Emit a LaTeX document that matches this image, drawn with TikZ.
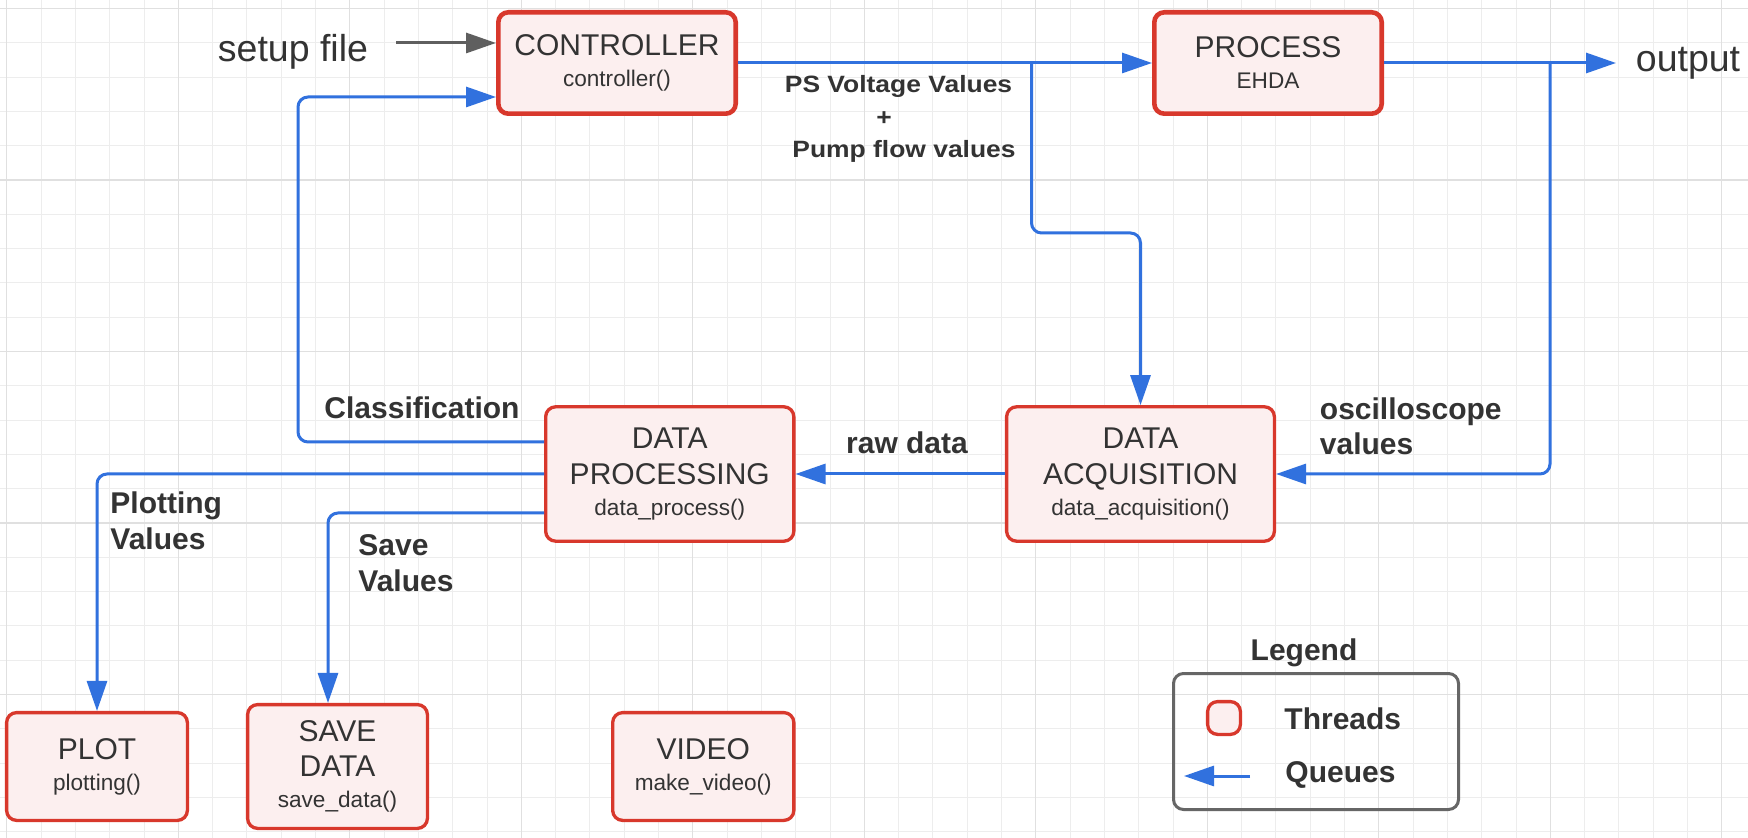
\documentclass[tikz,border=0pt]{standalone}
\usepackage{fontspec}
\setmainfont{Liberation Sans}
\newfontfamily\psfamily[FakeStretch=1.12]{Liberation Sans}
\usetikzlibrary{arrows.meta}
\definecolor{tred}{HTML}{D8382C}
\definecolor{tfill}{HTML}{FCEFEF}
\definecolor{qblue}{HTML}{3171DE}
\definecolor{txt}{HTML}{333333}
\definecolor{garrow}{HTML}{5F5F5F}
\definecolor{lgray}{HTML}{666666}
\definecolor{gminor}{HTML}{EDEDED}
\definecolor{gmajor}{HTML}{E0E0E0}
\newcommand{\mainf}{\fontsize{15}{17.8}\selectfont}
\newcommand{\subf}{\fontsize{11.3}{17.8}\selectfont}
\newcommand{\bigf}{\fontsize{18.75}{22}\selectfont}
\newcommand{\psf}{\psfamily\bfseries\fontsize{11.8}{16.25}\selectfont}
\begin{document}
\begin{tikzpicture}[x=0.5pt,y=-0.5pt,
  thread/.style={draw=tred, fill=tfill, line width=1.65pt, rounded corners=5pt, align=center, text=txt, font=\mainf, inner sep=0pt},
  topthread/.style={thread, line width=2.3pt},
  tip/.style={-{Triangle[length=15pt,width=10pt]}},
  queue/.style={draw=qblue, line width=1.5pt, rounded corners=5pt, tip},
  lbl/.style={text=txt, font=\bfseries\mainf, inner sep=0pt},
  plain/.style={text=txt, font=\bigf, inner sep=0pt},
]
\useasboundingbox (0,0) rectangle (1748,838);
\fill[white] (0,0) rectangle (1748,838);
% grid
\foreach \i in {0,...,50}{\draw[gminor, line width=0.5pt] ({6.8+34.3*\i},0) -- ({6.8+34.3*\i},838);}
\foreach \j in {0,...,24}{\draw[gminor, line width=0.5pt] (0,{8.5+34.3*\j}) -- (1748,{8.5+34.3*\j});}
\foreach \i in {0,...,10}{\draw[gmajor, line width=0.6pt] ({6.8+171.5*\i},0) -- ({6.8+171.5*\i},838);}
\foreach \j in {0,...,4}{\draw[gmajor, line width=0.6pt] (0,{8.5+171.5*\j}) -- (1748,{8.5+171.5*\j});}

% threads
\node[topthread, minimum width=118.7pt, minimum height=50.7pt] (ctrl) at (617,63) {CONTROLLER\\[-2.3pt]{\subf controller()}};
\node[topthread, minimum width=113.7pt, minimum height=50.7pt] (proc) at (1268,63) {PROCESS\\[-2.3pt]{\subf EHDA}};
\node[thread, minimum width=133.9pt, minimum height=67.2pt] (dacq) at (1140.5,474) {DATA\\ACQUISITION\\[-2.3pt]{\subf data\_acquisition()}};
\node[thread, minimum width=124.1pt, minimum height=67.2pt] (dp) at (669.75,474) {DATA\\PROCESSING\\[-2.3pt]{\subf data\_process()}};
\node[thread, minimum width=90.4pt, minimum height=53.9pt] (plot) at (97,766.5) {PLOT\\[-2.3pt]{\subf plotting()}};
\node[thread, minimum width=89.9pt, minimum height=61.9pt] (save) at (337.5,766.5) {SAVE\\DATA\\[-2.3pt]{\subf save\_data()}};
\node[thread, minimum width=90.6pt, minimum height=53.9pt] (video) at (703.25,766.5) {VIDEO\\[-2.3pt]{\subf make\_video()}};

% free texts
\node[plain, anchor=base] (setup) at (293,62) {setup file};
\node[plain, anchor=base] (out) at (1688,72) {output};

% connectors
\coordinate (sf) at (396,43);
\draw[garrow, line width=1.5pt, tip] (sf) -- (ctrl.west |- sf);
\draw[queue] (ctrl.east) -- (proc.west);
\coordinate (brA) at (1031.5,63);
\coordinate (brB) at (1031.5,233);
\draw[queue] (brA) -- (brB) -- (brB -| dacq.north) -- (dacq.north);
\coordinate (outE) at (1616,63);
\draw[queue] (proc.east) -- (outE);
\coordinate (obA) at (1550,63);
\coordinate (obB) at (1550,474);
\draw[queue] (obA) -- (obB) -- (dacq.east);
\draw[queue] (dacq.west) -- (dp.east);
\coordinate (clsA) at (298,442);
\coordinate (clsB) at (298,97);
\draw[queue] (dp.west |- clsA) -- (clsA) -- (clsB) -- (ctrl.west |- clsB);
\draw[queue] (dp.west) -- (dp.west -| plot.north) -- (plot.north);
\coordinate (svA) at (328,513);
\draw[queue] (dp.west |- svA) -- (svA) -- (svA |- save.north);

% labels (base = last line)
\node[lbl, font=\psf, align=center, anchor=base] (lps) at (898.5,158) {PS Voltage Values\\+\rule{14.5pt}{0pt}\\\rule{5.5pt}{0pt}Pump flow values};
\node[lbl, anchor=base] (lcls) at (422,419) {Classification};
\node[lbl, anchor=base] (lraw) at (907,453.5) {raw data};
\node[lbl, align=left, anchor=base west] (losc) at (1319.5,455) {oscilloscope\\values};
\node[lbl, align=left, anchor=base west] (lplot) at (110,549) {Plotting\\Values};
\node[lbl, align=left, anchor=base west] (lsave) at (358,591) {Save\\Values};

% legend
\node[lbl, anchor=base] (legt) at (1304,660) {Legend};
\node[draw=lgray, line width=1.5pt, rounded corners=5pt, minimum width=142.5pt, minimum height=68pt, inner sep=0pt] (legbox) at (1316,741.5) {};
\node[thread, minimum width=16.4pt, minimum height=16.4pt] (legthr) at (1224,718) {};
\node[lbl, anchor=base west] (lthr) at (1284,729) {Threads};
\coordinate (lqA) at (1250,776);
\coordinate (lqB) at (1184,776);
\draw[queue] (lqA) -- (lqB);
\node[lbl, anchor=base west] (lque) at (1285,782) {Queues};
\end{tikzpicture}
\end{document}
